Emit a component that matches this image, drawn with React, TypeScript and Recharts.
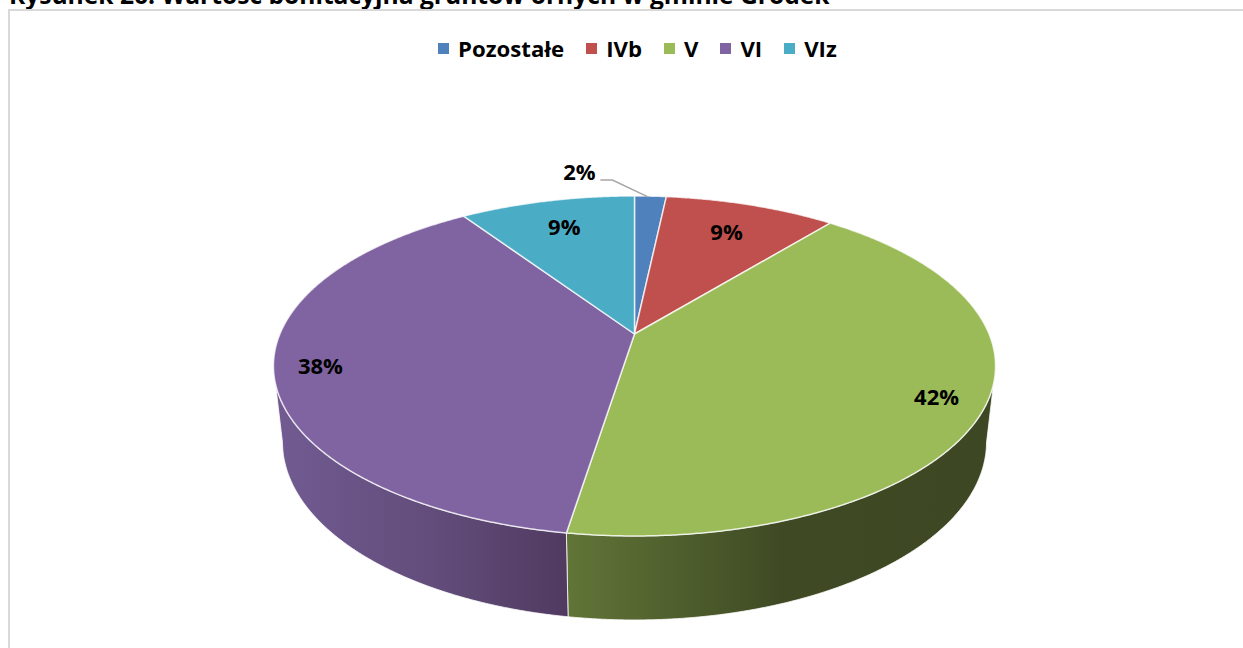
import { PieChart, Pie, Legend } from "recharts";

const categories = ["Pozostałe", "IVb", "V", "VI", "VIz"];
const shares = [1.7, 9.2, 41.6, 38.1, 9.4];
const percentLabels = ["2%", "9%", "42%", "38%", "9%"];
const topColors = ["#4f81bd", "#c0504d", "#9bbb59", "#8064a2", "#4bacc6"];
// where each label sits along its radius, 1 = on the rim
const labelRadii = [1, 0.762, 0.871, 0.875, 0.775];
const wallStops = [
  [],
  [],
  [["0%", "#617537"], ["50%", "#3f4a24"], ["100%", "#3d4723"]],
  [["0%", "#715b92"], ["60%", "#604b78"], ["100%", "#503a60"]],
  [],
];

const data = categories.map((name, i) => ({
  name,
  value: shares[i],
  fill: topColors[i],
}));

const FONT = "'Open Sans', sans-serif";
const TILT = 0.4625; // vertical squash of the disc
const PERSP = 0.188; // how much nearer the front edge looks
const LEGEND_OFFSET = 28; // recharts pushes the plot down by the legend height

// perspective projection of a point on the disc
const project = (cx: number, cy: number, r: number, deg: number) => {
  const u = r * Math.cos((deg * Math.PI) / 180);
  const v = -r * Math.sin((deg * Math.PI) / 180);
  const w = 1 - (PERSP * v) / 354.6;
  return { x: cx + u / w, y: cy + (TILT * v) / w };
};

const arcAngles = (start: number, end: number) => {
  const steps = Math.max(2, Math.ceil(Math.abs(end - start) * 3));
  return Array.from({ length: steps + 1 }, (_, i) => start + ((end - start) * i) / steps);
};

const TopSlice = (props: any) => {
  const { cx, cy, outerRadius, startAngle, endAngle, fill } = props;
  const pts = arcAngles(startAngle, endAngle).map((a) => project(cx, cy, outerRadius, a));
  const d = `M${cx},${cy}L` + pts.map((p) => `${p.x.toFixed(2)},${p.y.toFixed(2)}`).join("L") + "Z";
  return <path d={d} fill={fill} stroke="#ffffff" strokeOpacity={0.75} strokeWidth={1.5} strokeLinejoin="round" />;
};

const WallSlice = (props: any) => {
  const { cx, cy, outerRadius, startAngle, endAngle, index } = props;
  const top = project(cx, cy, outerRadius, 90).y;
  const bottom = project(cx, cy, outerRadius, -90).y;
  const yc = (top + bottom) / 2;
  const rim = arcAngles(startAngle, endAngle)
    .map((a) => project(cx, cy, outerRadius, a))
    .filter((p) => p.y >= yc);
  if (rim.length < 2) return <g />;
  // the lower rim is a slightly narrower, rounder ellipse further down
  const lower = rim.map((p) => ({
    x: cx + (p.x - cx) * 0.975,
    y: yc + 76 + (p.y - yc) * 1.047,
  }));
  const outline = [...rim, ...lower.reverse()];
  const d = "M" + outline.map((p) => `${p.x.toFixed(2)},${p.y.toFixed(2)}`).join("L") + "Z";
  return <path d={d} fill={`url(#wall${index})`} stroke="#ffffff" strokeOpacity={0.8} strokeWidth={1} />;
};

const SliceLabel = (props: any) => {
  const { cx, cy, outerRadius, midAngle, index } = props;
  const p = project(cx, cy, outerRadius * labelRadii[index], midAngle);
  const outside = labelRadii[index] >= 1;
  return (
    <text
      x={outside ? p.x - 71 : p.x}
      y={outside ? p.y - 25 : p.y - 1}
      textAnchor="middle"
      dominantBaseline="central"
      fontFamily={FONT}
      fontWeight={700}
      fontSize={22}
      fill="#000000"
    >
      {percentLabels[index]}
    </text>
  );
};

const LeaderLine = (props: any) => {
  const { cx, cy, outerRadius, midAngle, index } = props;
  if (labelRadii[index] < 1) return <g />;
  const p = project(cx, cy, outerRadius, midAngle);
  return (
    <polyline
      points={`${p.x - 2},${p.y + 1} ${p.x - 38},${p.y - 16} ${p.x - 50},${p.y - 16}`}
      fill="none"
      stroke="#a6a6a6"
      strokeWidth={1.5}
    />
  );
};

// both pies report legend items, so keep one per category
const LegendRow = ({ payload }: any) => {
  const items = categories.map((name) => (payload || []).find((p: any) => p.value === name)).filter(Boolean);
  return (
    <div style={{ display: "flex", gap: 22, fontFamily: FONT, fontWeight: 700, fontSize: 22.2, color: "#000", lineHeight: "28px" }}>
      {items.map((item: any) => (
        <div key={item.value} style={{ display: "flex", alignItems: "center", gap: 9 }}>
          <span style={{ width: 11, height: 11, background: item.payload?.fill ?? item.color }} />
          <span>{item.value}</span>
        </div>
      ))}
    </div>
  );
};

export default function App() {
  return (
    <div style={{ position: "absolute", left: 0, top: 0, width: 1243, height: 648, overflow: "hidden", background: "#fff" }}>
      <div
        style={{
          position: "absolute",
          left: 9,
          top: -20,
          fontFamily: FONT,
          fontWeight: 700,
          fontSize: 24.6,
          lineHeight: "30px",
          whiteSpace: "nowrap",
          color: "#000",
        }}
      >
        Rysunek 26. Wartość bonitacyjna gruntów ornych w gminie Gródek
      </div>
      <div
        style={{
          position: "absolute",
          left: 8,
          top: 9,
          width: 1235,
          height: 639,
          boxSizing: "border-box",
          borderLeft: "2.5px solid #d9d9d9",
          borderTop: "2.5px solid #d9d9d9",
        }}
      />
      <PieChart width={1243} height={648} margin={{ top: 0, right: 0, bottom: 0, left: 0 }} style={{ position: "absolute", left: 0, top: 0 }}>
        <defs>
          {wallStops.map((stops, i) => (
            <linearGradient key={i} id={`wall${i}`} x1="0" y1="0" x2="1" y2="0">
              {stops.map(([offset, color]) => (
                <stop key={offset} offset={offset} stopColor={color} />
              ))}
            </linearGradient>
          ))}
        </defs>
        <Legend
          verticalAlign="top"
          align="left"
          itemSorter={null}
          content={<LegendRow />}
          wrapperStyle={{ top: 34.5, left: 438, width: "auto" }}
        />
        <Pie
          data={data}
          dataKey="value"
          nameKey="name"
          cx={634.5}
          cy={334 - LEGEND_OFFSET}
          outerRadius={354.6}
          startAngle={90}
          endAngle={-270}
          stroke="none"
          shape={WallSlice}
          legendType="none"
          isAnimationActive={false}
        />
        <Pie
          data={data}
          dataKey="value"
          nameKey="name"
          cx={634.5}
          cy={334 - LEGEND_OFFSET}
          outerRadius={354.6}
          startAngle={90}
          endAngle={-270}
          stroke="none"
          shape={TopSlice}
          label={SliceLabel}
          labelLine={LeaderLine}
          isAnimationActive={false}
        />
      </PieChart>
    </div>
  );
}
